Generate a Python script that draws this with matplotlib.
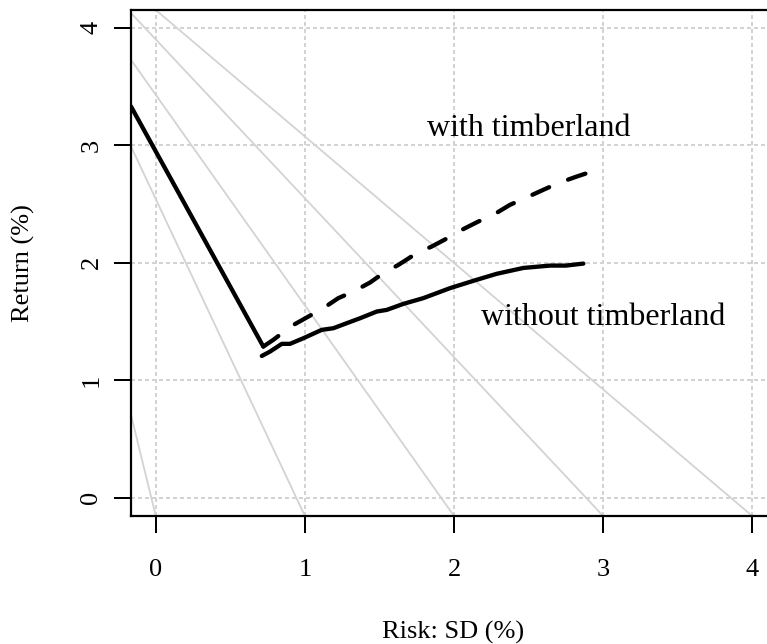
import matplotlib.pyplot as plt

# efficient frontiers
risk_without = [0.711, 0.766, 0.845, 0.900, 0.990, 1.113, 1.191, 1.281, 1.370, 1.482,
                1.549, 1.660, 1.794, 1.973, 2.152, 2.286, 2.465, 2.644, 2.750, 2.867]
ret_without = [1.206, 1.243, 1.309, 1.309, 1.357, 1.428, 1.442, 1.485, 1.527, 1.584,
               1.598, 1.649, 1.698, 1.783, 1.854, 1.905, 1.955, 1.975, 1.975, 1.992]

risk_with = [0.721, 0.788, 0.912, 1.023, 1.124, 1.224, 1.325, 1.437, 1.526, 1.627,
             1.750, 1.850, 1.951, 2.000, 2.052, 2.163, 2.264, 2.375, 2.476, 2.599,
             2.699, 2.823, 2.959]
ret_with = [1.286, 1.343, 1.462, 1.541, 1.613, 1.698, 1.754, 1.831, 1.911, 1.981,
            2.081, 2.137, 2.205, 2.228, 2.279, 2.350, 2.407, 2.492, 2.549, 2.620,
            2.677, 2.733, 2.790]

# straight solid segment from the left edge down to the frontier start
risk_link = [-0.166, 0.721]
ret_link = [3.329, 1.286]

# gray reference lines: return where they meet the left edge, risk where they meet the bottom
gray_left_ret = [0.706, 2.989, 3.726, 4.124, 4.329]
gray_bottom_risk = [0, 1, 2, 3, 4]

ticks = [0, 1, 2, 3, 4]
xlim = (-0.166, 4.152)
ylim = (-0.156, 4.15)

plt.rcParams['font.family'] = ['Liberation Serif', 'DejaVu Serif']

fig = plt.figure(figsize=(7.67, 6.44), dpi=100)
ax = fig.add_axes([131 / 767, 1 - 516 / 644, (775 - 131) / 767, (516 - 10) / 644])

for y0, x1 in zip(gray_left_ret, gray_bottom_risk):
    ax.plot([xlim[0], x1], [y0, ylim[0]], color='#d3d3d3', lw=1.3, zorder=1)

ax.plot(risk_link, ret_link, color='black', lw=3.1, solid_capstyle='round', zorder=3)
ax.plot(risk_without, ret_without, color='black', lw=3.1, solid_capstyle='round',
        solid_joinstyle='round', zorder=3)
ax.plot(risk_with, ret_with, color='black', lw=3.1, dashes=(4.25, 4.75),
        dash_capstyle='round', dash_joinstyle='round', zorder=3)

ax.text(2.5, 3.074, 'with timberland', fontsize=23, ha='center', va='baseline')
ax.text(3.0, 1.47, 'without timberland', fontsize=23, ha='center', va='baseline')

ax.set_xlim(xlim)
ax.set_ylim(ylim)
ax.set_xticks(ticks)
ax.set_yticks(ticks)
ax.grid(True, color='#d3d3d3', linestyle=(0, (2, 1.5)), linewidth=1.44)
ax.set_axisbelow(True)

for s in ax.spines.values():
    s.set_linewidth(1.6)
ax.tick_params(direction='out', length=12, width=1.44, labelsize=19)
ax.tick_params(axis='x', pad=19)
ax.tick_params(axis='y', pad=8.6, labelrotation=90)
for lab in ax.get_yticklabels():
    lab.set_va('center')

ax.set_xlabel('Risk: SD (%)', fontsize=19, va='baseline')
ax.xaxis.set_label_coords((453 - 131) / 644, (516 - 639) / 506)
ax.set_ylabel('Return (%)', fontsize=19, va='center')
ax.yaxis.set_label_coords((23 - 131) / 644, 0.5)

fig.savefig('out.png', dpi=100)
